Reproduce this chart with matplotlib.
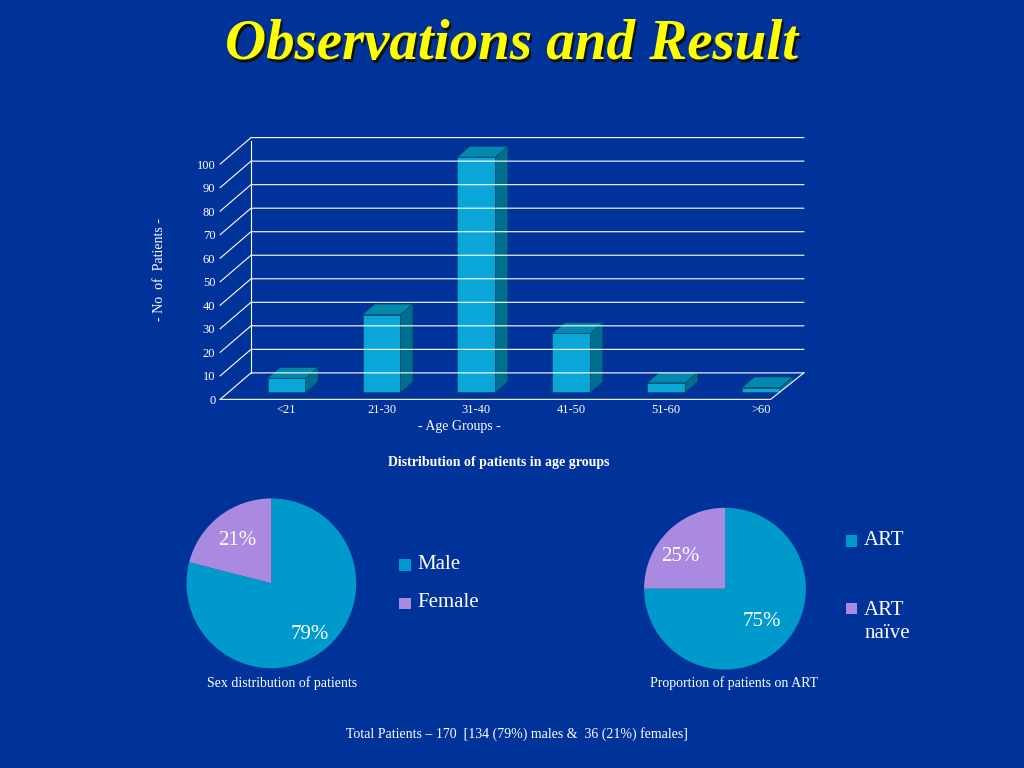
import numpy as np
import matplotlib.pyplot as plt
from matplotlib.patches import Polygon, Rectangle

age_groups = ['<21', '21-30', '31-40', '41-50', '51-60', '>60']
patients = [6, 33, 100, 25, 4, 2]
sex_labels = ['Male', 'Female']
sex_pct = [79, 21]
art_labels = ['ART', 'ART\nnaïve']
art_pct = [75, 25]
yticks = [0, 10, 20, 30, 40, 50, 60, 70, 80, 90, 100]

bg = '#003399'
c_front = '#0aa6d8'
c_side = '#006f8f'
c_top = '#0588ad'
c_male = '#0099cc'
c_female = '#a98ae0'

fig = plt.figure(figsize=(10.24, 7.68), dpi=100, facecolor=bg)
fig.text(0.502, 0.938, 'Observations and Result', ha='center', va='center', color='#111100',
         fontsize=41, fontweight='bold', fontstyle='italic', family='Liberation Serif')
fig.text(0.5, 0.941, 'Observations and Result', ha='center', va='center', color='#ffff00',
         fontsize=41, fontweight='bold', fontstyle='italic', family='Liberation Serif')

# pseudo-3D bar chart
ax = fig.add_axes([0.215, 0.48, 0.57, 0.337])
ax.set_facecolor(bg)
ax.set_xlim(-0.5, 5.65)
ax.set_ylim(0, 110)
dx, dy = 0.13, 4.5
for t in yticks:
    ax.plot([-0.5, -0.5 + 2.5 * dx, 5.65], [t, t + 2.5 * dy, t + 2.5 * dy], color='white', lw=0.8, clip_on=False)
ax.plot([-0.5 + 2.5 * dx] * 2, [2.5 * dy, 100 + 2.5 * dy], color='white', lw=0.8)
ax.plot([-0.5, 5.3, 5.65], [0, 0, 2.5 * dy], color='white', lw=0.8, clip_on=False)
w = 0.4
for i, v in enumerate(patients):
    x0 = i - w / 2 + 0.2
    ax.add_patch(Rectangle((x0, 3), w, v, facecolor=c_front, edgecolor='#005070', lw=0.5))
    ax.add_patch(Polygon([(x0 + w, 3), (x0 + w + dx, 3 + dy), (x0 + w + dx, v + 3 + dy), (x0 + w, v + 3)],
                         facecolor=c_side, edgecolor='#005070', lw=0.5))
    ax.add_patch(Polygon([(x0, v + 3), (x0 + dx, v + 3 + dy), (x0 + w + dx, v + 3 + dy), (x0 + w, v + 3)],
                         facecolor=c_top, edgecolor='#005070', lw=0.5))
ax.set_xticks(np.arange(len(age_groups)) + 0.2)
ax.set_xticklabels(age_groups)
ax.set_yticks(yticks)
ax.tick_params(colors='white', labelsize=9, length=0)
for lab in ax.get_xticklabels() + ax.get_yticklabels():
    lab.set_family('Liberation Serif')
for s in ax.spines.values():
    s.set_visible(False)
ax.set_xlabel('- Age Groups -', color='white', fontsize=10, family='Liberation Serif', labelpad=0)
ax.xaxis.set_label_coords(0.41, -0.08)
ax.set_ylabel('- No  of  Patients -', color='white', fontsize=10, family='Liberation Serif', labelpad=22)
fig.text(0.487, 0.393, 'Distribution of patients in age groups', ha='center', color='white',
         fontsize=10, fontweight='bold', family='Liberation Serif')

def pie(rect, vals, labels, lx, ly, gap, label_pos):
    a = fig.add_axes(rect)
    a.pie(vals, colors=[c_male, c_female], startangle=90, counterclock=False,
          wedgeprops=dict(linewidth=0))
    a.set_xlim(-1, 1)
    a.set_ylim(-1, 1)
    for (px, py), v in zip(label_pos, vals):
        a.text(px, py, f'{v}%', color='white', fontsize=15, ha='center', va='center',
               family='Liberation Serif')
    for k, (lab, col) in enumerate(zip(labels, [c_male, c_female])):
        y = ly - k * gap
        fig.patches.append(Rectangle((lx, y - 0.008), 0.011, 0.015, facecolor=col,
                                     transform=fig.transFigure, figure=fig))
        fig.text(lx + 0.018, y, lab, color='white', fontsize=15, va='center',
                 family='Liberation Serif', linespacing=1.3, transform=fig.transFigure)

pie([0.182, 0.130, 0.166, 0.221], sex_pct, sex_labels, 0.39, 0.265, 0.05, [(0.45, -0.6), (-0.4, 0.5)])
pie([0.629, 0.128, 0.158, 0.211], art_pct, art_labels, 0.826, 0.296, 0.088, [(0.45, -0.4), (-0.55, 0.4)])
fig.texts[-1].set_position((0.844, 0.19))

fig.text(0.275, 0.105, 'Sex distribution of patients', ha='center', color='white', fontsize=10, family='Liberation Serif')
fig.text(0.717, 0.105, 'Proportion of patients on ART', ha='center', color='white', fontsize=10, family='Liberation Serif')
fig.text(0.505, 0.039, 'Total Patients \u2013 170  [134 (79%) males &  36 (21%) females]', ha='center',
         color='white', fontsize=10, family='Liberation Serif')

fig.savefig('out.png', dpi=100, facecolor=bg)
